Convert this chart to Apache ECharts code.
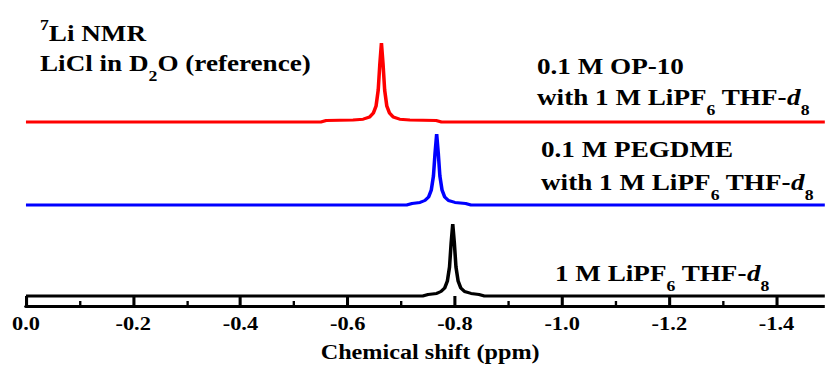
<!DOCTYPE html>
<html>
<head>
<meta charset="utf-8">
<script src="https://cdn.jsdelivr.net/npm/echarts@6/dist/echarts.min.js"></script>
<style>
  html, body { margin: 0; padding: 0; background: #fff; overflow: hidden; }
  /* the original figure is a horizontally stretched raster, so draw narrow and stretch */
  #chart { width: 699px; height: 370px; transform: scaleX(1.18); transform-origin: 0 0; }
</style>
</head>
<body>
<div id="chart"></div>
<script>
// chemical shift (ppm) and intensity above each trace's own baseline
const redShift = [0, -0.30, -0.55, -0.56, -0.61, -0.629, -0.641, -0.648, -0.653, -0.657, -0.660, -0.663, -0.666, -0.669, -0.673, -0.678, -0.685, -0.697, -0.716, -0.765, -0.775, -1.1, -1.6];
const redInt = [0, 0, 0, 1.5, 2.0, 2.8, 5, 9, 16, 32, 58, 79, 58, 32, 16, 9, 5, 2.8, 2.0, 1.5, 0, 0, 0];

const blueShift = [0, -0.40, -0.71, -0.72, -0.735, -0.744, -0.751, -0.756, -0.760, -0.763, -0.766, -0.769, -0.772, -0.776, -0.781, -0.788, -0.80, -0.82, -0.83, -1.2, -1.6];
const blueInt = [0, 0, 0, 1.5, 2.6, 4.5, 8, 15, 29, 52, 71, 52, 29, 15, 8, 4.5, 2.6, 1.5, 0, 0, 0];

const blackShift = [0, -0.40, -0.74, -0.75, -0.766, -0.774, -0.781, -0.786, -0.790, -0.793, -0.796, -0.799, -0.802, -0.806, -0.811, -0.818, -0.830, -0.845, -0.855, -1.2, -1.6];
const blackInt = [0, 0, 0, 1.5, 2.6, 4.5, 8, 15, 29, 53, 72, 53, 29, 15, 8, 4.5, 2.6, 1.5, 0, 0, 0];

// vertical stacking offsets of the three spectra
const offsets = { red: 184, blue: 101, black: 10 };

const xTicks = { min: -1.6, max: 0, interval: 0.2 };

const serif = '"Liberation Serif", "Times New Roman", serif';

function toPairs(shift, inten, off) {
  return shift.map((s, i) => [s, inten[i] + off]);
}

const rich = {
  s: { fontFamily: serif, fontWeight: 'bold', fontSize: 15, lineHeight: 10, padding: [25, 0, 0, 0], fill: '#000' },
  i: { fontFamily: serif, fontWeight: 'bold', fontStyle: 'italic', fontSize: 23, fill: '#000' },
  sup: { fontFamily: serif, fontWeight: 'bold', fontSize: 15, lineHeight: 10, padding: [0, 0, 16, 0], fill: '#000' }
};

function label(x, y, text) {
  return {
    type: 'text',
    x: x,
    y: y,
    style: {
      text: text,
      fontFamily: serif,
      fontWeight: 'bold',
      fontSize: 23,
      fill: '#000',
      verticalAlign: 'middle',
      rich: rich
    }
  };
}

const chart = echarts.init(document.getElementById('chart'), null, { renderer: 'svg' });

chart.setOption({
  animation: false,
  backgroundColor: '#fff',
  grid: { left: 22, right: -50, top: 0, bottom: 64, containLabel: false, outerBoundsMode: 'none' },
  xAxis: {
    type: 'value',
    inverse: true,
    min: xTicks.min,
    max: xTicks.max,
    interval: xTicks.interval,
    name: 'Chemical shift (ppm)',
    nameLocation: 'middle',
    nameGap: 36,
    nameTextStyle: {
      fontFamily: serif, fontWeight: 'bold', fontSize: 20.5, color: '#000',
      padding: [0, 42, 0, 0]
    },
    axisLine: { lineStyle: { color: '#000', width: 3 } },
    axisTick: { inside: true, length: 10, lineStyle: { color: '#000', width: 2.6 } },
    minorTick: { show: true, splitNumber: 2, length: 5, lineStyle: { color: '#000', width: 2 } },
    splitLine: { show: false },
    axisLabel: {
      margin: 8,
      showMinLabel: false,
      fontFamily: serif, fontWeight: 'bold', fontSize: 19, color: '#000',
      formatter: v => v.toFixed(1)
    }
  },
  yAxis: { type: 'value', min: 0, max: 306, show: false },
  series: [
    {
      type: 'line', data: toPairs(redShift, redInt, offsets.red),
      showSymbol: false, lineStyle: { color: '#ff0000', width: 3 }
    },
    {
      type: 'line', data: toPairs(blueShift, blueInt, offsets.blue),
      showSymbol: false, lineStyle: { color: '#0000ff', width: 3 }
    },
    {
      type: 'line', data: toPairs(blackShift, blackInt, offsets.black),
      showSymbol: false, lineStyle: { color: '#000', width: 3 }
    }
  ],
  graphic: [
    label(33.9, 33, '{sup|7}Li NMR'),
    label(33.9, 63, 'LiCl in D{s|2}O (reference)'),
    label(455.1, 66, '0.1 M OP-10'),
    label(455.1, 97, 'with 1 M LiPF{s|6} THF-{i|d}{s|8}'),
    label(458.5, 149, '0.1 M PEGDME'),
    label(458.5, 182, 'with 1 M LiPF{s|6} THF-{i|d}{s|8}'),
    label(470.3, 273, '1 M LiPF{s|6} THF-{i|d}{s|8}')
  ]
});
</script>
</body>
</html>
